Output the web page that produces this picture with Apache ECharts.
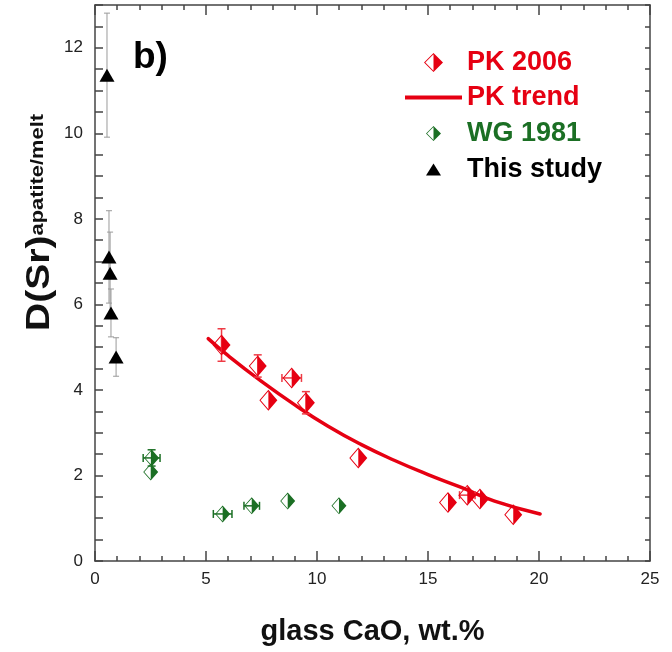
<!DOCTYPE html>
<html>
<head>
<meta charset="utf-8">
<script src="https://cdn.jsdelivr.net/npm/echarts@6/dist/echarts.min.js"></script>
<style>
  html, body { margin: 0; padding: 0; background: #fff; }
  #chart { width: 672px; height: 652px; }
</style>
</head>
<body>
<div id="chart"></div>
<script>
// PK 2006 points (x = glass CaO wt.%, y = D(Sr))
var pkX = [5.7, 7.33, 8.86, 7.81, 9.5, 11.86, 15.9, 16.77, 17.34, 18.84]
var pkY = [5.05, 4.56, 4.28, 3.76, 3.70, 2.41, 1.37, 1.54, 1.45, 1.08]
var pkXErr = [0, 0, 0.44, 0, 0, 0, 0, 0.35, 0, 0]
var pkYErr = [0.38, 0.26, 0, 0, 0.26, 0, 0, 0, 0, 0]
// PK trend curve
var trendX = [5.1, 6, 7.5, 9, 10.5, 12, 13.5, 15, 16.5, 18, 20.05]
var trendY = [5.2, 4.8, 4.2, 3.65, 3.15, 2.72, 2.35, 2.02, 1.72, 1.40, 1.10]
// WG 1981
var wgX = [2.55, 2.51, 5.75, 7.06, 8.68, 10.99]
var wgY = [2.41, 2.08, 1.10, 1.29, 1.40, 1.29]
var wgXErr = [0.38, 0, 0.42, 0.35, 0, 0]
var wgYErr = [0.19, 0, 0, 0, 0, 0]
// This study
var studyX = [0.54, 0.63, 0.68, 0.72, 0.95]
var studyY = [11.36, 7.11, 6.73, 5.80, 4.77]
var studyYErr = [1.45, 1.08, 0.96, 0.56, 0.45]

var xTicks = [0, 5, 10, 15, 20, 25]
var yTicks = [0, 2, 4, 6, 8, 10, 12]

var font = 'Liberation Sans, Arial, sans-serif'
var red = '#e60012'
var green = '#1b6f24'
var halfDiamond = 'path://M0,-10L10,0L0,10ZM0,-10L-10,0L0,10L0,8.6L-8.6,0L0,-8.6Z'

function pairs(xs, ys) {
  return xs.map(function (x, i) { return [x, ys[i]] })
}

function errData(xs, ys, ex, ey) {
  var out = []
  xs.forEach(function (x, i) {
    var a = ex ? ex[i] : 0
    var b = ey ? ey[i] : 0
    if (a > 0 || b > 0) out.push([x, ys[i], a, b])
  })
  return out
}

function errRender(color, cap, width) {
  return function (params, api) {
    var x = api.value(0), y = api.value(1), ex = api.value(2), ey = api.value(3)
    var c = api.coord([x, y])
    var st = { stroke: color, lineWidth: width }
    var kids = []
    if (ey > 0) {
      var t = api.coord([x, y + ey])[1]
      var b = api.coord([x, y - ey])[1]
      kids.push({ type: 'line', shape: { x1: c[0], y1: t, x2: c[0], y2: b }, style: st })
      kids.push({ type: 'line', shape: { x1: c[0] - cap, y1: t, x2: c[0] + cap, y2: t }, style: st })
      kids.push({ type: 'line', shape: { x1: c[0] - cap, y1: b, x2: c[0] + cap, y2: b }, style: st })
    }
    if (ex > 0) {
      var l = api.coord([x - ex, y])[0]
      var r = api.coord([x + ex, y])[0]
      kids.push({ type: 'line', shape: { x1: l, y1: c[1], x2: r, y2: c[1] }, style: st })
      kids.push({ type: 'line', shape: { x1: l, y1: c[1] - cap, x2: l, y2: c[1] + cap }, style: st })
      kids.push({ type: 'line', shape: { x1: r, y1: c[1] - cap, x2: r, y2: c[1] + cap }, style: st })
    }
    return { type: 'group', children: kids }
  }
}

function legendFor(name, color, left, top, w, h, pad, icon) {
  var item = { name: name }
  if (icon) item.icon = icon
  return {
    data: [item],
    left: left,
    top: top,
    padding: 0,
    itemWidth: w,
    itemHeight: h,
    selectedMode: false,
    textStyle: { color: color, fontSize: 27, fontWeight: 'bold', fontFamily: font, padding: [0, 0, 0, pad] }
  }
}

var axisLineStyle = { color: '#444', width: 1.5 }

var chart = echarts.init(document.getElementById('chart'))
chart.setOption({
  animation: false,
  textStyle: { fontFamily: font },
  title: {
    text: 'b)',
    left: 133,
    top: 39,
    padding: 0,
    textStyle: { fontSize: 37, fontWeight: 'bold', color: '#000', fontFamily: font }
  },
  legend: [
    legendFor('PK 2006', red, 424, 49, 19, 19, 19),
    legendFor('PK trend', red, 405, 84, 57, 4, 0, 'rect'),
    legendFor('WG 1981', green, 426, 120, 15, 17, 21),
    legendFor('This study', '#000', 426, 156, 15, 12, 21)
  ],
  grid: { left: 95, right: 22, top: 5, bottom: 91 },
  graphic: [{
    type: 'text',
    x: 57,
    y: 331,
    rotation: Math.PI / 2,
    scaleX: 1.15,
    style: {
      text: '{a|D(Sr)}{b|apatite/melt}',
      align: 'left',
      verticalAlign: 'bottom',
      rich: {
        a: { fontSize: 34, fontWeight: 'bold', fontFamily: font, fill: '#111' },
        b: { fontSize: 19, fontWeight: 'bold', fontFamily: font, fill: '#111', verticalAlign: 'middle', padding: [0, 0, 5, 0] }
      }
    }
  }],
  xAxis: [{
    type: 'value',
    min: xTicks[0],
    max: xTicks[xTicks.length - 1],
    interval: 5,
    name: 'glass CaO, wt.%',
    nameLocation: 'middle',
    nameGap: 56,
    nameTextStyle: { fontSize: 29, fontWeight: 'bold', color: '#111', fontFamily: font },
    axisLine: { onZero: false, lineStyle: axisLineStyle },
    axisTick: { inside: true, length: 10, lineStyle: axisLineStyle },
    minorTick: { show: true, splitNumber: 5, length: 5, lineStyle: axisLineStyle },
    axisLabel: { fontSize: 17, color: '#222', margin: 10 },
    splitLine: { show: false }
  }, {
    type: 'value',
    position: 'top',
    min: xTicks[0],
    max: xTicks[xTicks.length - 1],
    interval: 5,
    axisLine: { onZero: false, lineStyle: axisLineStyle },
    axisTick: { inside: true, length: 10, lineStyle: axisLineStyle },
    minorTick: { show: true, splitNumber: 5, length: 5, lineStyle: axisLineStyle },
    axisLabel: { show: false },
    splitLine: { show: false }
  }],
  yAxis: [{
    type: 'value',
    min: 0,
    max: 13,
    interval: 0.5,
    axisLine: { onZero: false, lineStyle: axisLineStyle },
    axisTick: { inside: true, length: 8, lineStyle: axisLineStyle },
    axisLabel: {
      fontSize: 17, color: '#222', margin: 12,
      formatter: function (v) { return yTicks.indexOf(v) >= 0 ? String(v) : '' }
    },
    splitLine: { show: false }
  }, {
    type: 'value',
    position: 'right',
    min: 0,
    max: 13,
    interval: 0.5,
    axisLine: { onZero: false, lineStyle: axisLineStyle },
    axisTick: { inside: true, length: 5, lineStyle: axisLineStyle },
    axisLabel: { show: false },
    splitLine: { show: false }
  }],
  series: [
    {
      name: 'PK trend',
      type: 'line',
      data: pairs(trendX, trendY),
      smooth: 0.5,
      symbol: 'none',
      lineStyle: { color: red, width: 3.5, cap: 'round' },
      itemStyle: { color: red },
      z: 2
    },
    {
      name: 'study err',
      type: 'custom',
      encode: { x: 0, y: 1 },
      data: errData(studyX, studyY, null, studyYErr),
      renderItem: errRender('#9a9a9a', 3, 1),
      silent: true,
      z: 1
    },
    {
      name: 'pk err',
      type: 'custom',
      encode: { x: 0, y: 1 },
      data: errData(pkX, pkY, pkXErr, pkYErr),
      renderItem: errRender('#ee3b45', 4, 1.5),
      silent: true,
      z: 3
    },
    {
      name: 'wg err',
      type: 'custom',
      encode: { x: 0, y: 1 },
      data: errData(wgX, wgY, wgXErr, wgYErr),
      renderItem: errRender(green, 4, 1.5),
      silent: true,
      z: 3
    },
    {
      name: 'PK 2006',
      type: 'scatter',
      data: pairs(pkX, pkY),
      symbol: halfDiamond,
      symbolSize: [18, 21],
      itemStyle: { color: red, opacity: 1 },
      z: 4
    },
    {
      name: 'WG 1981',
      type: 'scatter',
      data: pairs(wgX, wgY),
      symbol: halfDiamond,
      symbolSize: [15, 17],
      itemStyle: { color: green, opacity: 1 },
      z: 4
    },
    {
      name: 'This study',
      type: 'scatter',
      data: pairs(studyX, studyY),
      symbol: 'triangle',
      symbolSize: [15, 13],
      itemStyle: { color: '#000', opacity: 1 },
      z: 4
    }
  ]
})
</script>
</body>
</html>
